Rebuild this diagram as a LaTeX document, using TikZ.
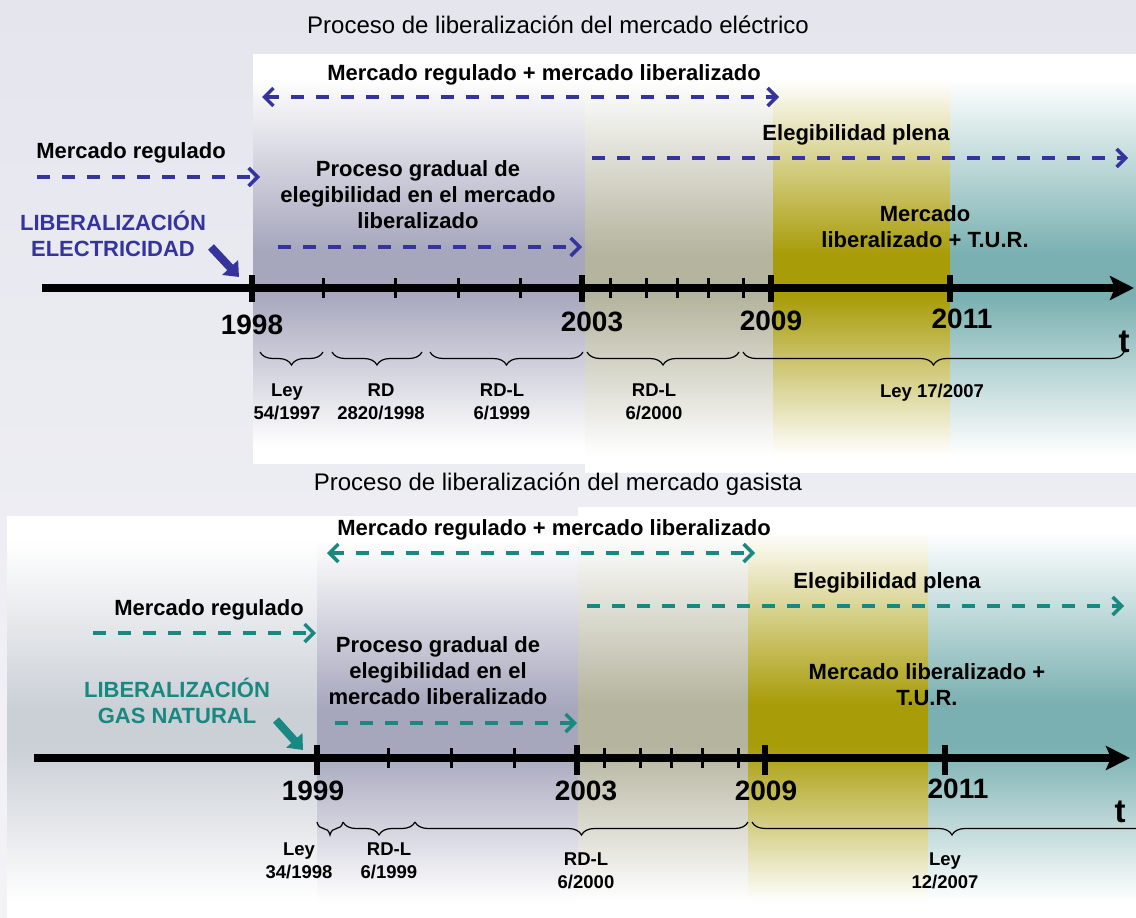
\documentclass[tikz,border=0pt]{standalone}
\usepackage{fontspec}
\setmainfont{Liberation Sans}
\usetikzlibrary{arrows.meta,decorations.pathreplacing}
\definecolor{elblue}{RGB}{52,52,156}
\definecolor{gasteal}{RGB}{24,136,128}
\definecolor{bgtop}{RGB}{229,229,238}
\definecolor{bgbot}{RGB}{243,243,247}
\definecolor{bandpurple}{RGB}{166,166,189}
\definecolor{bandbeige}{RGB}{181,180,158}
\definecolor{bandolive}{RGB}{168,156,8}
\definecolor{bandteal}{RGB}{122,176,177}
\definecolor{bandgrey}{RGB}{203,208,215}
\newcommand{\mkband}[2]{\pgfdeclareverticalshading{#1}{100bp}{color(0bp)=(white); color(27bp)=(white); color(46bp)=(#2); color(51bp)=(#2); color(72bp)=(white); color(100bp)=(white)}}
\mkband{shpurple}{bandpurple}
\mkband{shbeige}{bandbeige}
\mkband{sholive}{bandolive}
\mkband{shteal}{bandteal}
\mkband{shgrey}{bandgrey}
\tikzset{
  ttl/.style={font=\fontsize{24}{28}\selectfont, inner sep=0pt, anchor=base},
  lbl/.style={font=\bfseries\fontsize{22}{26}\selectfont, align=center, inner sep=0pt, anchor=base},
  yearlbl/.style={font=\bfseries\fontsize{28}{32}\selectfont, inner sep=0pt, anchor=base},
  lawlbl/.style={font=\bfseries\fontsize{18.5}{22.5}\selectfont, align=center, inner sep=0pt, anchor=base},
  tlbl/.style={font=\bfseries\fontsize{33}{36}\selectfont, inner sep=0pt, anchor=base},
  dasharr/.style={line width=3.5pt, dash pattern=on 13pt off 12pt, -{Straight Barb[length=9pt,width=18pt]}},
  dasharrboth/.style={line width=3.5pt, dash pattern=on 13pt off 12pt, {Straight Barb[length=9pt,width=18pt]}-{Straight Barb[length=9pt,width=18pt]}},
  axisline/.style={line width=8pt, -{Stealth[length=24pt,width=24pt,inset=5pt]}},
  majortick/.style={line width=6pt},
  minortick/.style={line width=3pt},
  lawbrace/.style={decorate, decoration={brace, mirror, amplitude=13pt}, line width=1.2pt},
  pointer/.style={line width=8pt, -{Triangle[length=13pt,width=21pt]}}
}
\begin{document}
\begin{tikzpicture}[x=1pt,y=-1pt]
\useasboundingbox (0,0) rectangle (1136,918);
\begin{scope}
\clip (0,0) rectangle (1136,918);
% background
\shade[top color=bgtop, bottom color=bgbot] (0,0) rectangle (1136,918);
% top panel bands
\shade[shading=shpurple] (253,54) rectangle (585,463);
\shade[shading=shbeige] (585,54) rectangle (773,472);
\shade[shading=sholive] (773,54) rectangle (950,472);
\shade[shading=shteal] (950,54) rectangle (1136,472);
% bottom panel bands
\shade[shading=shgrey] (7,516) rectangle (317,918);
\shade[shading=shpurple] (317,516) rectangle (578,918);
\shade[shading=shbeige] (578,507) rectangle (748,918);
\shade[shading=sholive] (748,507) rectangle (928,918);
\shade[shading=shteal] (928,507) rectangle (1136,918);

% ================= TOP: electricity =================
\node[ttl] (titleE) at (558,33) {Proceso de liberalización del mercado eléctrico};
\node[lbl] (mixE) at (544,80) {Mercado regulado + mercado liberalizado};
\coordinate (mixEa) at (262,97); \coordinate (mixEb) at (779,97);
\draw[dasharrboth, elblue] (mixEa) -- (mixEb);
\node[lbl] (regE) at (131,158) {Mercado regulado};
\coordinate (regEa) at (37,177); \coordinate (regEb) at (260,177);
\draw[dasharr, elblue] (regEa) -- (regEb);
\node[lbl, text=elblue] (libE) at (113,256) {LIBERALIZACIÓN\\ELECTRICIDAD};
\coordinate (libEa) at (211,247); \coordinate (libEb) at (239,277);
\draw[pointer, elblue] (libEa) -- (libEb);
\node[lbl] (gradE) at (418,228) {Proceso gradual de\\elegibilidad en el mercado\\liberalizado};
\coordinate (gradEa) at (278,247); \coordinate (gradEb) at (582,247);
\draw[dasharr, elblue] (gradEa) -- (gradEb);
\node[lbl] (eleE) at (856,140) {Elegibilidad plena};
\coordinate (eleEa) at (592,158); \coordinate (eleEb) at (1128,158);
\draw[dasharr, elblue] (eleEa) -- (eleEb);
\node[lbl] (turE) at (925,247) {Mercado\\liberalizado + T.U.R.};
% axis
\coordinate (axEa) at (42,288); \coordinate (axEb) at (1134,288);
\draw[axisline] (axEa) -- (axEb);
\foreach \x in {252,582,771,950} \draw[majortick] (\x,275) -- (\x,302);
\foreach \x in {323,395,458,520,610,646,677,708,743} \draw[minortick] (\x,278) -- (\x,298);
\node[yearlbl] (yE1998) at (252,334) {1998};
\node[yearlbl] (yE2003) at (592,331) {2003};
\node[yearlbl] (yE2009) at (771,330) {2009};
\node[yearlbl] (yE2011) at (962,328) {2011};
\node[tlbl] (tE) at (1124,352) {t};
% braces
\draw[lawbrace] (260,352) -- (323,352);
\draw[lawbrace] (332,352) -- (422,352);
\draw[lawbrace] (430,352) -- (583,352);
\draw[lawbrace] (587,352) -- (739,352);
\draw[lawbrace] (743,352) -- (1124,352);
\node[lawlbl] (lawE1) at (287,419) {Ley\\54/1997};
\node[lawlbl] (lawE2) at (381,419) {RD\\2820/1998};
\node[lawlbl] (lawE3) at (502,419) {RD-L\\6/1999};
\node[lawlbl] (lawE4) at (654,419) {RD-L\\6/2000};
\node[lawlbl] (lawE5) at (932,397) {Ley 17/2007};

% ================= BOTTOM: gas =================
\node[ttl] (titleG) at (558,490) {Proceso de liberalización del mercado gasista};
\node[lbl] (mixG) at (554,535) {Mercado regulado + mercado liberalizado};
\coordinate (mixGa) at (327,553); \coordinate (mixGb) at (755,553);
\draw[dasharrboth, gasteal] (mixGa) -- (mixGb);
\node[lbl] (regG) at (209,615) {Mercado regulado};
\coordinate (regGa) at (93,633); \coordinate (regGb) at (316,633);
\draw[dasharr, gasteal] (regGa) -- (regGb);
\node[lbl, text=gasteal] (libG) at (177,723) {LIBERALIZACIÓN\\GAS NATURAL};
\coordinate (libGa) at (276,720); \coordinate (libGb) at (303,750);
\draw[pointer, gasteal] (libGa) -- (libGb);
\node[lbl] (gradG) at (438,704) {Proceso gradual de\\elegibilidad en el\\mercado liberalizado};
\coordinate (gradGa) at (335,723); \coordinate (gradGb) at (577,723);
\draw[dasharr, gasteal] (gradGa) -- (gradGb);
\node[lbl] (eleG) at (887,588) {Elegibilidad plena};
\coordinate (eleGa) at (587,606); \coordinate (eleGb) at (1124,606);
\draw[dasharr, gasteal] (eleGa) -- (eleGb);
\node[lbl] (turG) at (927,705) {Mercado liberalizado +\\T.U.R.};
% axis
\coordinate (axGa) at (34,758); \coordinate (axGb) at (1130,758);
\draw[axisline] (axGa) -- (axGb);
\foreach \x in {317,577,765,945} \draw[majortick] (\x,745) -- (\x,775);
\foreach \x in {388,451,514,604,640,671,702,738} \draw[minortick] (\x,748) -- (\x,768);
\node[yearlbl] (yG1999) at (313,800) {1999};
\node[yearlbl] (yG2003) at (586,800) {2003};
\node[yearlbl] (yG2009) at (766,800) {2009};
\node[yearlbl] (yG2011) at (958,798) {2011};
\node[tlbl] (tG) at (1120,822) {t};
% braces
\draw[lawbrace] (317,822) -- (343,822);
\draw[lawbrace] (343,822) -- (415,822);
\draw[lawbrace] (415,822) -- (748,822);
\draw[lawbrace] (752,822) -- (1152,822);
\node[lawlbl] (lawG1) at (299,878) {Ley\\34/1998};
\node[lawlbl] (lawG2) at (389,878) {RD-L\\6/1999};
\node[lawlbl] (lawG3) at (586,888) {RD-L\\6/2000};
\node[lawlbl] (lawG4) at (945,888) {Ley\\12/2007};
\end{scope}
\end{tikzpicture}
\end{document}
